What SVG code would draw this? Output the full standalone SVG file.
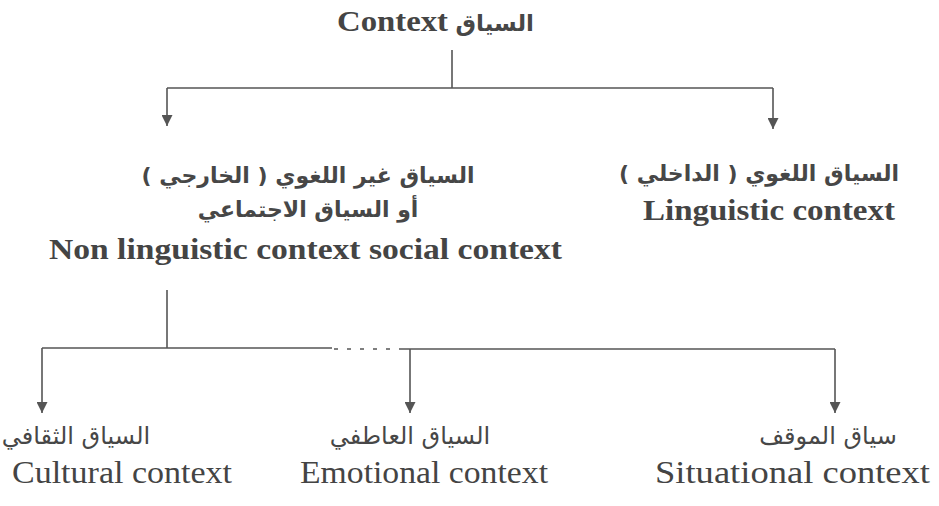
<svg xmlns="http://www.w3.org/2000/svg" width="939" height="506" viewBox="0 0 939 506">
<style>
.t{fill:#444;font-family:"Liberation Serif","DejaVu Sans",serif}
.b{font-weight:bold}
.ar{font-family:"DejaVu Sans","Liberation Serif",sans-serif;fill:#474747}
.ln{stroke:#555;stroke-width:1.6;fill:none}
</style>
<defs>
<marker id="ah" markerUnits="userSpaceOnUse" viewBox="0 0 12 12" refX="12" refY="6" markerWidth="13" markerHeight="11" orient="auto">
<path d="M0,0 L12,6 L0,12 z" fill="#555"/>
</marker>
</defs>
<rect width="939" height="506" fill="#fff"/>
<g id="connectors">
<path class="ln" d="M452,50 V88"/>
<path class="ln" d="M167,88 H773"/>
<path class="ln" d="M167,88 V126" marker-end="url(#ah)"/>
<path class="ln" d="M773,88 V129" marker-end="url(#ah)"/>
<path class="ln" d="M167,290 V348"/>
<path class="ln" d="M42,348 H332"/>
<path class="ln" d="M334,349 H403" stroke-dasharray="4 9" stroke="#bbb" stroke-width="1.2"/>
<path class="ln" d="M403,349 H835"/>
<path class="ln" d="M42,348 V413" marker-end="url(#ah)"/>
<path class="ln" d="M410,349 V413" marker-end="url(#ah)"/>
<path class="ln" d="M835,349 V413" marker-end="url(#ah)"/>
</g>
<g id="root">
<text class="t b" x="337" y="31" font-size="30" textLength="111" lengthAdjust="spacingAndGlyphs">Context</text>
<text class="ar b" x="534" y="31" font-size="23" text-anchor="end">السياق</text>
</g>
<g id="non-linguistic">
<text class="ar b" x="308" y="183" font-size="22" text-anchor="middle" direction="rtl">السياق غير اللغوي ( الخارجي )</text>
<text class="ar b" x="308" y="217" font-size="22" text-anchor="middle" direction="rtl">أو السياق الاجتماعي</text>
<text class="t b" x="49" y="259" font-size="30" textLength="513" lengthAdjust="spacingAndGlyphs">Non linguistic context social context</text>
</g>
<g id="linguistic">
<text class="ar b" x="759" y="181" font-size="22" text-anchor="middle" direction="rtl">السياق اللغوي ( الداخلي )</text>
<text class="t b" x="643" y="220" font-size="30" textLength="252" lengthAdjust="spacingAndGlyphs">Linguistic context</text>
</g>
<g id="cultural">
<text class="ar" x="76" y="444" font-size="24" text-anchor="middle" direction="rtl">السياق الثقافي</text>
<text class="t" x="12" y="483" font-size="32" textLength="220" lengthAdjust="spacingAndGlyphs">Cultural context</text>
</g>
<g id="emotional">
<text class="ar" x="410" y="444" font-size="24" text-anchor="middle" direction="rtl">السياق العاطفي</text>
<text class="t" x="300" y="483" font-size="32" textLength="248" lengthAdjust="spacingAndGlyphs">Emotional context</text>
</g>
<g id="situational">
<text class="ar" x="828" y="444" font-size="24" text-anchor="middle" direction="rtl">سياق الموقف</text>
<text class="t" x="655" y="483" font-size="32" textLength="275" lengthAdjust="spacingAndGlyphs">Situational context</text>
</g>
</svg>
